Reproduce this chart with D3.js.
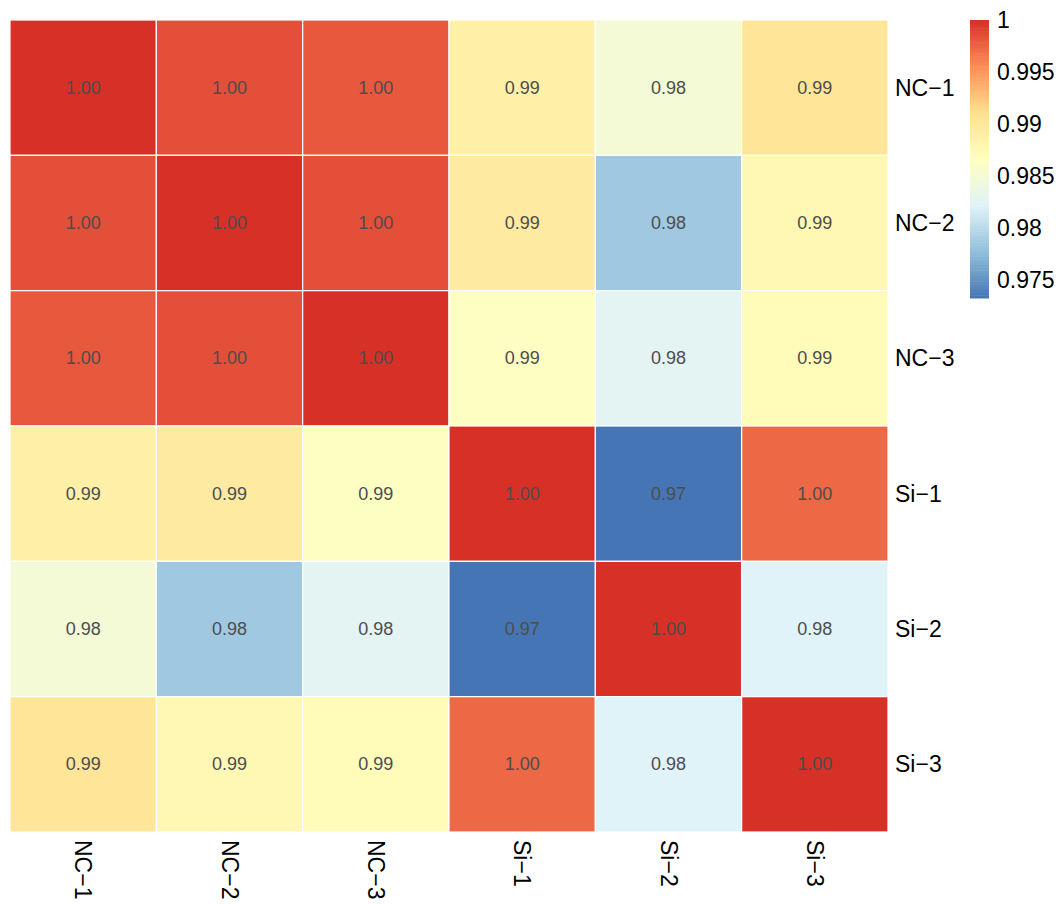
<!DOCTYPE html>
<html><head><meta charset="utf-8">
<script src="https://cdn.jsdelivr.net/npm/d3@7"></script>
<style>body{margin:0;background:#fff}svg{display:block}text{font-family:"Liberation Sans",Arial,Helvetica,sans-serif}</style>
</head><body><svg id="c" width="1064" height="905"></svg>
<script>
const samples = ["NC\u22121","NC\u22122","NC\u22123","Si\u22121","Si\u22122","Si\u22123"];
const corr = [
  [1.0000, 0.9985, 0.9981, 0.9888, 0.9849, 0.9904],
  [0.9985, 1.0000, 0.9985, 0.9896, 0.9786, 0.9877],
  [0.9981, 0.9985, 1.0000, 0.9864, 0.9826, 0.9872],
  [0.9888, 0.9896, 0.9864, 1.0000, 0.9733, 0.9973],
  [0.9849, 0.9786, 0.9826, 0.9733, 1.0000, 0.9822],
  [0.9904, 0.9877, 0.9872, 0.9973, 0.9822, 1.0000]
];
const legendTicks = [1, 0.995, 0.99, 0.985, 0.98, 0.975];
const palette = ["#4575B4","#91BFDB","#E0F3F8","#FFFFBF","#FEE090","#FC8D59","#D73027"];

const svg = d3.select("#c");
const vmin = d3.min(corr.flat()), vmax = d3.max(corr.flat());
const color = d3.scaleLinear()
  .domain(palette.map((_, i) => vmin + (vmax - vmin) * i / (palette.length - 1)))
  .range(palette).interpolate(d3.interpolateRgb).clamp(true);

const x = d3.scaleBand().domain(samples).range([10, 888]);
const y = d3.scaleBand().domain(samples).range([20, 832]);

const cells = [];
corr.forEach((row, i) => row.forEach((v, j) => cells.push({r: samples[i], c: samples[j], v})));

svg.append("g").selectAll("rect").data(cells).join("rect")
  .attr("x", d => x(d.c)).attr("y", d => y(d.r))
  .attr("width", x.bandwidth()).attr("height", y.bandwidth())
  .attr("fill", d => color(d.v)).attr("stroke", "#fff").attr("stroke-width", 1.2);

svg.append("g").selectAll("text").data(cells).join("text")
  .attr("x", d => x(d.c) + x.bandwidth() / 2).attr("y", d => y(d.r) + y.bandwidth() / 2)
  .attr("text-anchor", "middle").attr("dominant-baseline", "central")
  .attr("font-size", 18).attr("fill", "#4D4D4D")
  .text(d => d.v.toFixed(2));

// row labels
svg.append("g").selectAll("text").data(samples).join("text")
  .attr("x", 895).attr("y", d => y(d) + y.bandwidth() / 2)
  .attr("dominant-baseline", "central").attr("font-size", 23).attr("fill", "#000")
  .text(d => d);

// column labels (rotated)
svg.append("g").selectAll("text").data(samples).join("text")
  .attr("transform", d => `translate(${x(d) + x.bandwidth() / 2},840) rotate(90)`)
  .attr("dominant-baseline", "central").attr("font-size", 23).attr("fill", "#000")
  .text(d => d);

// legend
const ly = d3.scaleLinear().domain([vmax, vmin]).range([20, 298]);
const nSteps = 100;
const steps = d3.range(nSteps).map(k => vmin + (vmax - vmin) * (k + 0.5) / nSteps);
svg.append("g").selectAll("rect").data(steps).join("rect")
  .attr("x", 970).attr("width", 19)
  .attr("y", d => ly(d + (vmax - vmin) / nSteps / 2))
  .attr("height", (298 - 20) / nSteps + 0.5)
  .attr("fill", d => color(d));
svg.append("g").selectAll("text").data(legendTicks).join("text")
  .attr("x", 997).attr("y", d => ly(d))
  .attr("dominant-baseline", "central").attr("font-size", 23).attr("fill", "#000")
  .text(d => d3.format("")(d));
</script></body></html>
